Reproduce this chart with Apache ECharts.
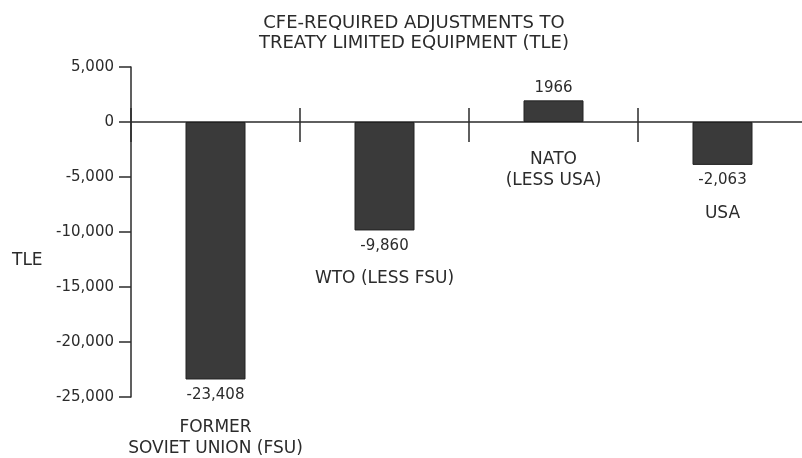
<!DOCTYPE html>
<html>
<head>
<meta charset="utf-8">
<script src="https://cdn.jsdelivr.net/npm/echarts@6/dist/echarts.min.js"></script>
<style>
  html, body { margin: 0; padding: 0; background: #fff; }
  #chart { width: 802px; height: 458px; }
</style>
</head>
<body>
<div id="chart"></div>
<script>
  // data
  var categories = ['FORMER\nSOVIET UNION (FSU)', 'WTO (LESS FSU)', 'NATO\n(LESS USA)', 'USA']
  var tleValues = [-23408, -9860, 1966, -3900] // bar heights as drawn
  var printedValues = ['-23,408', '-9,860', '1966', '-2,063'] // numbers printed on the chart
  var yTicks = [5000, -25000, 5000] // max, min, step

  var ink = '#2b2b2b'
  var font = 'DejaVu Sans'
  var gridTop = 67
  var gridHeight = 330

  var chart = echarts.init(document.getElementById('chart'))

  // value labels sit on the visible bars
  var barData = tleValues.map(function (v, i) {
    return {
      value: v,
      label: {
        show: true,
        position: v >= 0 ? 'top' : 'bottom',
        distance: v >= 0 ? 5 : 8,
        formatter: printedValues[i],
        color: ink,
        fontFamily: font,
        fontSize: 15
      }
    }
  })

  // category names hang under each bar (or under the axis for the positive one)
  var nameData = tleValues.map(function (v, i) {
    return {
      value: v,
      label: {
        show: true,
        position: 'bottom',
        distance: v >= 0 ? 27 : 38,
        formatter: categories[i],
        color: ink,
        fontFamily: font,
        fontSize: 17,
        lineHeight: 21
      }
    }
  })

  chart.setOption({
    backgroundColor: '#fff',
    animation: false,
    title: [{
      text: 'CFE-REQUIRED ADJUSTMENTS TO\nTREATY LIMITED EQUIPMENT (TLE)',
      left: 409,
      textAlign: 'center',
      top: 8,
      textStyle: {
        color: ink,
        fontFamily: font,
        fontWeight: 'normal',
        fontSize: 18,
        lineHeight: 20
      }
    }, {
      // y axis caption, sits lower than the axis middle
      text: 'TLE',
      left: 12,
      top: 252,
      padding: 0,
      textStyle: {
        color: ink,
        fontFamily: font,
        fontWeight: 'normal',
        fontSize: 17
      }
    }],
    grid: {
      left: 131,
      top: gridTop,
      width: 676,
      height: gridHeight,
      containLabel: false,
      outerBoundsMode: 'none'
    },
    xAxis: [{
      type: 'category',
      data: categories,
      position: 'bottom',
      axisLine: {
        onZero: true,
        lineStyle: { color: ink, width: 1.5 }
      },
      axisTick: {
        show: true,
        length: 20,
        lineStyle: { color: ink, width: 1.5 }
      },
      axisLabel: { show: false }
    }, {
      // upper half of the divider ticks, pushed down to the zero line
      type: 'category',
      data: categories,
      position: 'top',
      offset: -gridHeight * yTicks[0] / (yTicks[0] - yTicks[1]),
      axisLine: { show: false },
      axisTick: {
        show: true,
        length: 14,
        lineStyle: { color: ink, width: 1.5 }
      },
      axisLabel: { show: false }
    }],
    yAxis: {
      type: 'value',
      max: yTicks[0],
      min: yTicks[1],
      interval: yTicks[2],
      axisLine: { show: true, lineStyle: { color: ink, width: 1.5 } },
      axisTick: { show: true, length: 12, lineStyle: { color: ink, width: 1.5 } },
      axisLabel: {
        margin: 17,
        color: ink,
        fontFamily: font,
        fontSize: 15,
        formatter: function (v) {
          return v.toLocaleString('en-US')
        }
      },
      splitLine: { show: false }
    },
    series: [{
      type: 'bar',
      data: barData,
      barWidth: 60,
      z: 3,
      itemStyle: {
        color: '#3a3a3a',
        borderColor: '#222',
        borderWidth: 1
      }
    }, {
      type: 'bar',
      data: nameData,
      barWidth: 60,
      barGap: '-100%',
      z: 2,
      itemStyle: { color: 'rgba(0,0,0,0)' },
      silent: true
    }]
  })
</script>
</body>
</html>
